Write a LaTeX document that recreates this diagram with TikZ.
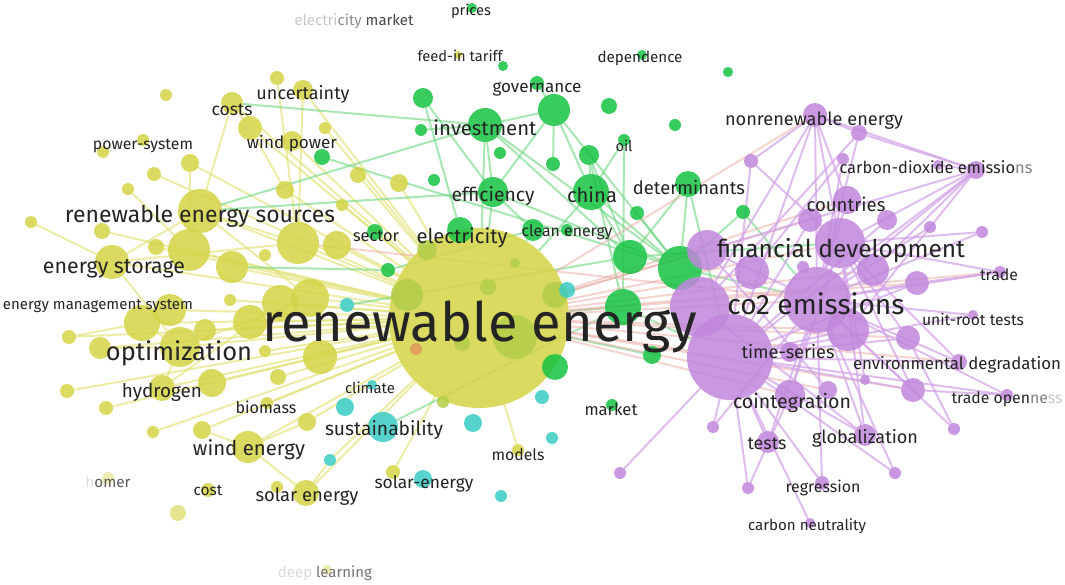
\documentclass[tikz,border=0pt]{standalone}
\usepackage{fontspec}
\setmainfont{Fira Sans}
\usepackage{graphicx}
\newlength\pxu \setlength\pxu{0.75pt}
\definecolor{cy}{RGB}{212,212,70}
\definecolor{cyg}{RGB}{178,206,70}
\definecolor{cg}{RGB}{22,194,66}
\definecolor{cp}{RGB}{192,134,220}
\definecolor{cc}{RGB}{58,204,198}
\definecolor{co}{RGB}{224,150,90}
\definecolor{ey}{RGB}{226,226,120}
\definecolor{eg}{RGB}{110,214,130}
\definecolor{ep}{RGB}{210,160,232}
\definecolor{er}{RGB}{232,170,160}
\definecolor{txt}{RGB}{36,36,36}
\pgfdeclarelayer{bg}
\pgfdeclarelayer{edges}
\pgfsetlayers{bg,edges,main}
\tikzset{
  nd/.style={circle,inner sep=0pt,outer sep=0pt,fill opacity=0.85},
  lbl/.style={inner sep=0pt,outer sep=0pt,text=txt},
  ye/.style={draw=ey,line width=1.5pt,opacity=0.65},
  ge/.style={draw=eg,line width=1.5pt,opacity=0.6},
  pe/.style={draw=ep,line width=1.5pt,opacity=0.7},
  re/.style={draw=er,line width=1.5pt,opacity=0.5},
}
\newcommand\cnode[5]{\node[nd,minimum size=#4*1.5pt,fill=#5] (#1) at (#2,#3) {};}
\newcommand\lbl[5]{\node[lbl] (#1) at (#2,#3) {\resizebox{#4\pxu}{!}{#5}};}
\begin{document}
\begin{tikzpicture}[x=0.75pt,y=-0.75pt]
\useasboundingbox (0,0) rectangle (1065,585);
\begin{pgfonlayer}{bg}
\fill[white] (0,0) rectangle (1065,585);
\end{pgfonlayer}
% ---------- yellow cluster
\cnode{RE}{479}{318}{90}{cy}
\cnode{y1}{277}{78}{7}{cy}
\cnode{y2}{303}{90}{10}{cy}
\cnode{y3}{232}{103}{11}{cy}
\cnode{y4}{166}{95}{6}{cy}
\cnode{y5}{250}{128}{12}{cy}
\cnode{y6}{292}{141}{10}{cy}
\cnode{y7}{325}{128}{6}{cy}
\cnode{y8}{143}{140}{6}{cy}
\cnode{y9}{103}{152}{6}{cy}
\cnode{y10}{190}{163}{9}{cy}
\cnode{y11}{154}{174}{7}{cy}
\cnode{y12}{128}{189}{6}{cy}
\cnode{y13}{285}{190}{9}{cy}
\cnode{RES}{200}{211}{22}{cy}
\cnode{y14}{31}{222}{6}{cy}
\cnode{y15}{102}{231}{8}{cy}
\cnode{y16}{156}{247}{8}{cy}
\cnode{y17}{189}{250}{21}{cy}
\cnode{y18}{112}{262}{17}{cy}
\cnode{y19}{232}{267}{16}{cy}
\cnode{y20}{265}{255}{6}{cy}
\cnode{y21}{298}{243}{21}{cy}
\cnode{y22}{337}{245}{14}{cy}
\cnode{y23}{342}{205}{6}{cy}
\cnode{y24}{358}{175}{8}{cy}
\cnode{y25}{399}{183}{9}{cy}
\cnode{y27}{230}{300}{6}{cy}
\cnode{y28}{250}{322}{17}{cy}
\cnode{y29}{280}{303}{18}{cy}
\cnode{y30}{310}{298}{19}{cy}
\cnode{y31}{142}{323}{18}{cy}
\cnode{y32}{170}{310}{16}{cy}
\cnode{OPT}{180}{347}{20}{cy}
\cnode{y33}{205}{330}{11}{cy}
\cnode{y34}{100}{348}{11}{cy}
\cnode{y35}{69}{337}{7}{cy}
\cnode{y36}{265}{351}{6}{cy}
\cnode{y37}{320}{357}{17}{cy}
\cnode{y38}{278}{377}{8}{cy}
\cnode{y39}{212}{383}{14}{cy}
\cnode{HYD}{162}{388}{13}{cy}
\cnode{y40}{67}{391}{7}{cy}
\cnode{y41}{106}{408}{7}{cy}
\cnode{y42}{153}{432}{6}{cy}
\cnode{y43}{202}{430}{9}{cy}
\cnode{y44}{267}{403}{6}{cy}
\cnode{y45}{307}{422}{9}{cy}
\cnode{WE}{248}{447}{16}{cy}
\cnode{y46}{277}{487}{6}{cy}
\cnode{SE}{306}{493}{13}{cy}
\cnode{y47}{208}{490}{7}{cy}
\cnode{y48}{178}{513}{8}{cy!70}
\cnode{y49}{108}{478}{6}{cy!50}
\cnode{y50}{327}{570}{5}{cy!50}
\cnode{y51}{393}{472}{7}{cy}
\cnode{y52}{518}{450}{6}{cy}
\cnode{y53}{458}{55}{4}{cy}
\cnode{y54}{443}{402}{6}{cyg}
\cnode{y55}{407}{295}{16}{cyg}
\cnode{y56}{488}{287}{8}{cyg}
\cnode{y57}{555}{295}{13}{cyg}
\cnode{y58}{462}{343}{8}{cyg}
\cnode{y59}{515}{337}{22}{cyg}
\cnode{y61}{427}{250}{10}{cyg}
\cnode{y62}{515}{263}{5}{cyg}
\cnode{y60}{416}{349}{6}{co}
% ---------- cyan cluster
\cnode{c1}{347}{305}{7}{cc}
\cnode{c2}{567}{290}{8}{cc}
\cnode{c3}{345}{407}{9}{cc}
\cnode{c4}{383}{427}{15}{cc}
\cnode{c5}{473}{423}{9}{cc}
\cnode{c6}{542}{397}{7}{cc}
\cnode{c7}{552}{438}{6}{cc}
\cnode{c8}{423}{479}{9}{cc}
\cnode{c9}{501}{496}{6}{cc}
\cnode{c10}{330}{460}{6}{cc}
\cnode{c11}{372}{385}{5}{cc}
% ---------- green cluster
\cnode{g1}{472}{8}{5}{cg}
\cnode{g2}{503}{66}{5}{cg}
\cnode{g3}{537}{83}{7}{cg}
\cnode{g4}{642}{55}{5}{cg}
\cnode{g5}{423}{98}{10}{cg}
\cnode{g6}{554}{110}{16}{cg}
\cnode{g7}{609}{106}{8}{cg}
\cnode{g8}{675}{125}{6}{cg}
\cnode{g9}{421}{130}{6}{cg}
\cnode{INV}{485}{125}{17}{cg}
\cnode{g10}{500}{153}{6}{cg}
\cnode{g11}{589}{155}{10}{cg}
\cnode{g12}{624}{140}{6}{cg}
\cnode{g13}{553}{164}{7}{cg}
\cnode{g14}{434}{180}{6}{cg}
\cnode{EFF}{493}{192}{15}{cg}
\cnode{CHN}{591}{192}{18}{cg}
\cnode{DET}{688}{184}{13}{cg}
\cnode{g15}{637}{213}{7}{cg}
\cnode{g16}{743}{212}{7}{cg}
\cnode{g17}{375}{232}{8}{cg}
\cnode{ELE}{460}{230}{13}{cg}
\cnode{g18}{533}{230}{11}{cg}
\cnode{g19}{567}{230}{6}{cg}
\cnode{g20}{630}{257}{17}{cg}
\cnode{g21}{680}{268}{22}{cg}
\cnode{g22}{623}{307}{18}{cg}
\cnode{g23}{652}{355}{9}{cg}
\cnode{g24}{555}{367}{13}{cg}
\cnode{g25}{612}{405}{6}{cg}
\cnode{g26}{728}{72}{5}{cg}
\cnode{g27}{322}{157}{8}{cg}
\cnode{g28}{388}{270}{7}{cg}
% ---------- purple cluster
\cnode{TS}{730}{357}{43}{cp}
\cnode{CO2}{817}{300}{33}{cp}
\cnode{p16}{700}{307}{30}{cp}
\cnode{FD}{840}{243}{25}{cp}
\cnode{p17}{848}{330}{21}{cp}
\cnode{p10}{707}{250}{20}{cp}
\cnode{NRE}{815}{115}{12}{cp}
\cnode{p1}{859}{133}{8}{cp}
\cnode{p2}{751}{161}{7}{cp}
\cnode{p3}{843}{159}{6}{cp}
\cnode{p4}{976}{170}{9}{cp}
\cnode{p5}{938}{165}{5}{cp}
\cnode{CTR}{847}{200}{14}{cp}
\cnode{p6}{810}{220}{12}{cp}
\cnode{p7}{887}{220}{10}{cp}
\cnode{p8}{930}{227}{6}{cp}
\cnode{p9}{982}{232}{6}{cp}
\cnode{p11}{873}{270}{16}{cp}
\cnode{p12}{752}{272}{17}{cp}
\cnode{p13}{803}{267}{6}{cp}
\cnode{p14}{917}{283}{12}{cp}
\cnode{p15}{1000}{272}{6}{cp}
\cnode{p18}{790}{352}{10}{cp}
\cnode{p19}{908}{338}{12}{cp}
\cnode{p20}{973}{315}{5}{cp}
\cnode{p21}{959}{362}{8}{cp}
\cnode{p22}{913}{390}{12}{cp}
\cnode{p23}{865}{380}{5}{cp}
\cnode{p24}{828}{390}{9}{cp}
\cnode{COI}{790}{395}{15}{cp}
\cnode{p25}{1007}{395}{6}{cp}
\cnode{p26}{713}{427}{6}{cp}
\cnode{TST}{768}{442}{11}{cp}
\cnode{GLO}{865}{435}{11}{cp}
\cnode{p27}{954}{429}{6}{cp}
\cnode{p28}{895}{473}{6}{cp}
\cnode{p29}{748}{488}{6}{cp}
\cnode{REG}{822}{483}{7}{cp}
\cnode{p30}{810}{523}{5}{cp}
\cnode{p31}{620}{473}{6}{cp}
% ---------- edges
\begin{pgfonlayer}{edges}
\foreach \a/\b in {RE/RES,RE/OPT,RE/y17,RE/y18,RE/y19,RE/y21,RE/y22,RE/y28,RE/y29,RE/y30,RE/y31,RE/y32,RE/y33,RE/y34,RE/y35,RE/HYD,RE/y39,RE/y37,RE/y40,RE/y41,RE/y43,RE/y45,RE/WE,RE/SE,RE/y13,RE/y10,RE/y5,RE/y3,RE/y2,RE/y6,RE/y24,RE/y25,RE/y51,RE/y52,RE/y38,RE/y15,RE/y16,RE/y27,RE/y44,RE/y36,RES/y3,RES/y17,RES/y18,y3/y5,y5/y13,y2/y21,y1/y21,OPT/y31,OPT/y18,WE/SE,WE/y45,y35/y31,HYD/y29,y34/OPT,y18/y21,RES/y21,y10/y17,SE/c10,c10/RE,y43/WE,y12/y17,y14/y18,RE/y11,RE/y23,RE/y7,RES/y30,OPT/y30,HYD/OPT,y42/RE}
  \draw[ye] (\a) -- (\b);
\foreach \a/\b in {INV/RE,g6/CHN,g6/g21,g6/EFF,g5/EFF,y3/INV,RES/INV,RES/EFF,CHN/RE,CHN/g20,CHN/g21,CHN/g11,CHN/g12,EFF/RE,EFF/g18,ELE/RE,g18/RE,DET/g21,DET/g20,g6/g13,g6/INV,INV/g21,INV/EFF,g5/ELE,g11/g20,g16/g21,g15/g21,g22/RE,g20/FD,g24/RE,g23/RE,g22/TS,g27/g21,g9/INV,g3/g6,g12/g22,y19/g28,g28/g18,c4/g22,c1/g20,DET/TS,g16/CO2,g21/CO2,INV/g20,g11/g22,EFF/g21}
  \draw[ge] (\a) -- (\b);
\foreach \a/\b in {RE/CO2,RE/FD,RE/TS,RE/p12,RE/NRE,RE/p10,RE/COI,RE/CTR,RE/p14,RE/p17,y21/CO2,RE/p24,RE/p22,RE/p21,RE/p19,RE/p15,RE/p11,RE/p6}
  \draw[re] (\a) -- (\b);
\foreach \a/\b in {NRE/CO2,NRE/FD,NRE/p1,NRE/p2,NRE/p4,NRE/TS,NRE/CTR,NRE/p16,p1/p4,p1/CO2,p2/TS,p2/FD,p3/CO2,p4/CO2,p4/FD,p4/p11,p4/TS,p4/p17,p4/p5,CTR/CO2,p15/CO2,p15/FD,p15/p14,p14/CO2,p20/CO2,p20/TS,p21/CO2,p21/TS,p25/CO2,p25/p22,p25/TS,p22/CO2,p22/TS,p27/CO2,p27/p19,p28/CO2,p28/TS,GLO/CO2,GLO/TS,GLO/FD,TST/TS,TST/CO2,REG/TS,REG/CO2,p29/TS,p29/COI,p30/TS,p26/TS,p26/CO2,COI/CO2,COI/FD,p31/TS,p19/FD,p19/TS,p9/CO2,p9/FD,p8/CO2,p1/p16,p3/p12,p7/TS,p6/TS,p13/TS,p23/FD,p24/p10,TS/p17,p10/CO2,p4/p10,p14/TS,p21/FD,p22/FD,GLO/p16}
  \draw[pe] (\a) -- (\b);
\end{pgfonlayer}
% ---------- labels
\lbl{tRE}{480}{327}{435}{renewable energy}
\lbl{tCO2}{816}{304}{177}{co2 emissions}
\lbl{tFD}{841}{251}{248}{financial development}
\lbl{tRES}{200}{216}{270}{renewable energy sources}
\lbl{tES}{114}{269}{142}{energy storage}
\lbl{tOPT}{179}{353}{146}{optimization}
\lbl{tEMS}{98}{306}{190}{energy management system}
\lbl{tPS}{143}{146}{100}{power-system}
\lbl{tCOSTS}{232}{110}{41}{costs}
\lbl{tUNC}{303}{94}{93}{uncertainty}
\lbl{tWP}{292}{144}{90}{wind power}
\lbl{tHYD}{162}{392}{80}{hydrogen}
\lbl{tBIO}{266}{407}{61}{biomass}
\lbl{tWE}{249}{450}{112}{wind energy}
\lbl{tSE}{307}{497}{103}{solar energy}
\lbl{tCOST}{208}{490}{29}{cost}
\lbl{tHOM}{108}{482}{45}{{\color{black!12}h}{\color{black!65}omer}}
\lbl{tDL}{325}{573}{94}{{\color{black!15}deep} {\color{black!55}learning}}
\lbl{tCLI}{370}{388}{50}{climate}
\lbl{tSUS}{384}{430}{118}{sustainability}
\lbl{tMOD}{518}{455}{53}{models}
\lbl{tSOLE}{424}{484}{99}{solar-energy}
\lbl{tMKT}{611}{409}{53}{market}
\lbl{tSEC}{376}{236}{46}{sector}
\lbl{tELE}{462}{238}{91}{electricity}
\lbl{tEFF}{493}{196}{83}{efficiency}
\lbl{tCE}{567}{232}{91}{clean energy}
\lbl{tCHN}{592}{195}{50}{china}
\lbl{tINV}{485}{128}{103}{investment}
\lbl{tGOV}{537}{89}{89}{governance}
\lbl{tOIL}{624}{146}{17}{oil}
\lbl{tFIT}{460}{56}{85}{feed-in tariff}
\lbl{tDEP}{640}{58}{85}{dependence}
\lbl{tPRI}{471}{11}{40}{prices}
\lbl{tEM}{354}{21}{119}{{\color{black!22}electri}{\color{black!45}city} {\color{black!72}market}}
\lbl{tDET}{689}{187}{112}{determinants}
\lbl{tNRE}{814}{121}{178}{nonrenewable energy}
\lbl{tCDE}{936}{167}{193}{carbon-dioxide emissio{\color{black!50}ns}}
\lbl{tCTR}{846}{204}{79}{countries}
\lbl{tTRA}{999}{275}{38}{trade}
\lbl{tURT}{973}{319}{102}{unit-root tests}
\lbl{tTS}{788}{352}{93}{time-series}
\lbl{tED}{957}{365}{208}{environmental degradation}
\lbl{tTO}{1007}{399}{111}{trade open{\color{black!50}ne}{\color{black!22}ss}}
\lbl{tCOI}{792}{403}{118}{cointegration}
\lbl{tTST}{767}{444}{39}{tests}
\lbl{tGLO}{865}{438}{106}{globalization}
\lbl{tREG}{823}{488}{75}{regression}
\lbl{tCN}{807}{526}{118}{carbon neutrality}
\end{tikzpicture}
\end{document}
